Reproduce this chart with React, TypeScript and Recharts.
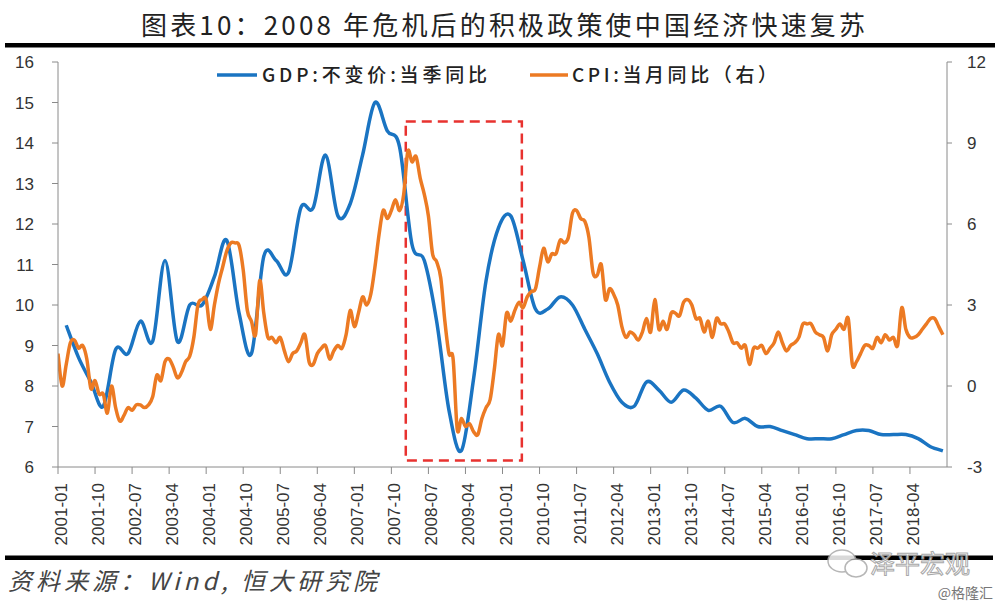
import React from "react";
import { LineChart, Line, XAxis, YAxis, ReferenceArea } from "recharts";

// ---------- text ----------
const TITLE = "图表10：2008 年危机后的积极政策使中国经济快速复苏";
const SOURCE = "资料来源：Wind, 恒大研究院";
const GDP_NAME = "GDP:不变价:当季同比";
const CPI_NAME = "CPI:当月同比（右）";
const WATERMARK = "泽平宏观";
const CREDIT = "@格隆汇";

// ---------- axes ----------
const LEFT_TICKS = [6, 7, 8, 9, 10, 11, 12, 13, 14, 15, 16];
const RIGHT_TICKS = [-3, 0, 3, 6, 9, 12];
const YEARS = [2001, 2002, 2003, 2004, 2005, 2006, 2007, 2008, 2009, 2010, 2011, 2012, 2013, 2014, 2015, 2016, 2017, 2018];
const MONTH_NUMS = ["01", "02", "03", "04", "05", "06", "07", "08", "09", "10", "11", "12"];
const X_TICK_LABELS = [
  "2001-01", "2001-10", "2002-07", "2003-04", "2004-01", "2004-10", "2005-07", "2006-04",
  "2007-01", "2007-10", "2008-07", "2009-04", "2010-01", "2010-10", "2011-07", "2012-04",
  "2013-01", "2013-10", "2014-07", "2015-04", "2016-01", "2016-10", "2017-07", "2018-04",
];

// ---------- CPI monthly yoy (%) ----------
const CPI_2001 = [1.2, 0.0, 0.8, 1.6, 1.7, 1.4, 1.5, 1.0, -0.1, 0.2, -0.3, -0.3];
const CPI_2002 = [-1.0, 0.0, -0.8, -1.3, -1.1, -0.8, -0.9, -0.7, -0.7, -0.8, -0.7, -0.4];
const CPI_2003 = [0.4, 0.2, 0.9, 1.0, 0.7, 0.3, 0.5, 0.9, 1.1, 1.8, 3.0, 3.2];
const CPI_2004 = [3.2, 2.1, 3.0, 3.8, 4.4, 5.0, 5.3, 5.3, 5.2, 4.3, 2.8, 2.4];
const CPI_2005 = [1.9, 3.9, 2.7, 1.8, 1.8, 1.6, 1.8, 1.3, 0.9, 1.2, 1.3, 1.6];
const CPI_2006 = [1.9, 0.9, 0.8, 1.2, 1.4, 1.5, 1.0, 1.3, 1.5, 1.4, 1.9, 2.8];
const CPI_2007 = [2.2, 2.7, 3.3, 3.0, 3.4, 4.4, 5.6, 6.5, 6.2, 6.5, 6.9, 6.5];
const CPI_2008 = [7.1, 8.7, 8.3, 8.5, 7.7, 7.1, 6.3, 4.9, 4.6, 4.0, 2.4, 1.2];
const CPI_2009 = [1.0, -1.6, -1.2, -1.5, -1.4, -1.7, -1.8, -1.2, -0.8, -0.5, 0.6, 1.9];
const CPI_2010 = [1.5, 2.7, 2.4, 2.8, 3.1, 2.9, 3.3, 3.5, 3.6, 4.4, 5.1, 4.6];
const CPI_2011 = [4.9, 4.9, 5.4, 5.3, 5.5, 6.4, 6.5, 6.2, 6.1, 5.5, 4.2, 4.1];
const CPI_2012 = [4.5, 3.2, 3.6, 3.4, 3.0, 2.2, 1.8, 2.0, 1.9, 1.7, 2.0, 2.5];
const CPI_2013 = [2.0, 3.2, 2.1, 2.4, 2.1, 2.7, 2.7, 2.6, 3.1, 3.2, 3.0, 2.5];
const CPI_2014 = [2.5, 2.0, 2.4, 1.8, 2.5, 2.3, 2.3, 2.0, 1.6, 1.6, 1.4, 1.5];
const CPI_2015 = [0.8, 1.4, 1.4, 1.5, 1.2, 1.4, 1.6, 2.0, 1.6, 1.3, 1.5, 1.6];
const CPI_2016 = [1.8, 2.3, 2.3, 2.3, 2.0, 1.9, 1.8, 1.3, 1.9, 2.1, 2.3, 2.1];
const CPI_2017 = [2.5, 0.8, 0.9, 1.2, 1.5, 1.5, 1.4, 1.8, 1.6, 1.9, 1.7, 1.8];
const CPI_2018 = [1.5, 2.9, 2.1, 1.8, 1.8, 1.9, 2.1, 2.3, 2.5, 2.5, 2.2, 1.9];

// ---------- GDP quarterly yoy (%) ----------
const GDP_2001 = [9.5, 8.7, 8.1, 7.5];
const GDP_2002 = [8.9, 8.8, 9.6, 9.1];
const GDP_2003 = [11.1, 9.1, 10.0, 10.0];
const GDP_2004 = [10.7, 11.6, 9.8, 8.8];
const GDP_2005 = [11.2, 11.1, 10.8, 12.4];
const GDP_2006 = [12.4, 13.7, 12.2, 12.5];
const GDP_2007 = [13.7, 15.0, 14.3, 13.9];
const GDP_2008 = [11.5, 11.1, 9.6, 7.4];
const GDP_2009 = [6.4, 8.2, 10.6, 11.9];
const GDP_2010 = [12.2, 11.1, 9.9, 9.9];
const GDP_2011 = [10.2, 10.0, 9.4, 8.8];
const GDP_2012 = [8.1, 7.6, 7.5, 8.1];
const GDP_2013 = [7.9, 7.6, 7.9, 7.7];
const GDP_2014 = [7.4, 7.5, 7.1, 7.2];
const GDP_2015 = [7.0, 7.0, 6.9, 6.8];
const GDP_2016 = [6.7, 6.7, 6.7, 6.8];
const GDP_2017 = [6.9, 6.9, 6.8, 6.8];
const GDP_2018 = [6.8, 6.7, 6.5, 6.4];

// highlighted crisis window (month index on x, left-axis value on y)
const BOX_X = [84.5, 112.7];
const BOX_Y = [6.16, 14.53];

const CPI = [
  ...CPI_2001, ...CPI_2002, ...CPI_2003, ...CPI_2004, ...CPI_2005, ...CPI_2006,
  ...CPI_2007, ...CPI_2008, ...CPI_2009, ...CPI_2010, ...CPI_2011, ...CPI_2012,
  ...CPI_2013, ...CPI_2014, ...CPI_2015, ...CPI_2016, ...CPI_2017, ...CPI_2018,
];
const GDP = [
  ...GDP_2001, ...GDP_2002, ...GDP_2003, ...GDP_2004, ...GDP_2005, ...GDP_2006,
  ...GDP_2007, ...GDP_2008, ...GDP_2009, ...GDP_2010, ...GDP_2011, ...GDP_2012,
  ...GDP_2013, ...GDP_2014, ...GDP_2015, ...GDP_2016, ...GDP_2017, ...GDP_2018,
];
const MONTHS: string[] = [];
YEARS.forEach((y) => MONTH_NUMS.forEach((m) => MONTHS.push(`${y}-${m}`)));

const DATA = MONTHS.map((month, i) => ({
  i,
  month,
  cpi: CPI[i],
  gdp: i % 3 === 2 ? GDP[(i - 2) / 3] : null,
}));
const X_TICKS = X_TICK_LABELS.map((l) => MONTHS.indexOf(l));

const BLUE = "#1a74c2";
const ORANGE = "#ec7a23";
const AXIS = "#8a8a8a";
const TICK_FONT = "'Liberation Sans', Arial, sans-serif";
const CJK = "'Noto Sans CJK SC', 'Liberation Sans', sans-serif";

// Excel-like smoothed line (Catmull-Rom bezier)
const excelCurve: any = (context: any) => {
  let pts: number[][] = [];
  return {
    areaStart() {},
    areaEnd() {},
    lineStart() {
      pts = [];
    },
    point(x: number, y: number) {
      pts.push([+x, +y]);
    },
    lineEnd() {
      const n = pts.length;
      if (!n) return;
      context.moveTo(pts[0][0], pts[0][1]);
      for (let k = 0; k < n - 1; k++) {
        const p0 = pts[k - 1] || pts[k];
        const p1 = pts[k];
        const p2 = pts[k + 1];
        const p3 = pts[k + 2] || p2;
        context.bezierCurveTo(
          p1[0] + (p2[0] - p0[0]) / 6,
          p1[1] + (p2[1] - p0[1]) / 6,
          p2[0] - (p3[0] - p1[0]) / 6,
          p2[1] - (p3[1] - p1[1]) / 6,
          p2[0],
          p2[1]
        );
      }
    },
  };
};

const XTick = (props: any) => {
  const { x, y, payload } = props;
  return (
    <text
      transform={`translate(${x},${y}) rotate(-90)`}
      textAnchor="end"
      dy={9}
      fontSize={17}
      fontFamily={TICK_FONT}
      fill="#333"
    >
      {MONTHS[payload.value]}
    </text>
  );
};

export default function App() {
  return (
    <div style={{ position: "absolute", left: 0, top: 0, width: 1000, height: 606, background: "#fff", overflow: "hidden" }}>
      <div style={{ position: "absolute", left: 0, top: 0 }}>
        <LineChart width={1000} height={606} data={DATA} margin={{ top: 62, right: 0, bottom: 0, left: 0 }}>
          <XAxis
            type="number"
            dataKey="i"
            domain={[0, 216]}
            ticks={X_TICKS}
            interval={0}
            height={139}
            tick={<XTick />}
            tickSize={7}
            tickMargin={9}
            stroke={AXIS}
            tickLine={{ stroke: AXIS }}
            allowDataOverflow
          />
          <YAxis
            yAxisId="left"
            orientation="left"
            width={58}
            domain={[6, 16]}
            ticks={LEFT_TICKS}
            interval={0}
            tickSize={6}
            tickMargin={18}
            stroke={AXIS}
            tick={{ fontSize: 17, fill: "#333", fontFamily: TICK_FONT }}
            allowDataOverflow
          />
          <YAxis
            yAxisId="right"
            orientation="right"
            width={53}
            domain={[-3, 12]}
            ticks={RIGHT_TICKS}
            interval={0}
            tickSize={5}
            tickMargin={15}
            stroke={AXIS}
            tick={{ fontSize: 17, fill: "#333", fontFamily: TICK_FONT, textAnchor: "start" }}
            allowDataOverflow
          />
          <Line
            yAxisId="left"
            dataKey="gdp"
            name={GDP_NAME}
            type={excelCurve}
            stroke={BLUE}
            strokeWidth={3.5}
            dot={false}
            activeDot={false}
            connectNulls
            isAnimationActive={false}
          />
          <Line
            yAxisId="right"
            dataKey="cpi"
            name={CPI_NAME}
            type={excelCurve}
            stroke={ORANGE}
            strokeWidth={3.5}
            dot={false}
            activeDot={false}
            isAnimationActive={false}
          />
          <ReferenceArea
            yAxisId="left"
            x1={BOX_X[0]}
            x2={BOX_X[1]}
            y1={BOX_Y[0]}
            y2={BOX_Y[1]}
            fill="none"
            fillOpacity={0}
            stroke="#e8322f"
            strokeWidth={2.5}
            strokeDasharray="10 6"
            strokeOpacity={1}
          />
        </LineChart>
      </div>
      <svg width={1000} height={606} style={{ position: "absolute", left: 0, top: 0, pointerEvents: "none" }}>
        <text x={141} y={35} fontSize={26} fontFamily={CJK} fill="#222" textLength={724} lengthAdjust="spacing">
          {TITLE}
        </text>
        <rect x={5} y={43} width={990} height={4.5} fill="#000" />
        <line x1={217} x2={257} y1={75} y2={75} stroke={BLUE} strokeWidth={3.5} />
        <text x={262} y={82} fontSize={19} fontFamily={CJK} fontWeight={500} fill="#222" textLength={225} lengthAdjust="spacing">
          {GDP_NAME}
        </text>
        <line x1={530} x2={568} y1={75} y2={75} stroke={ORANGE} strokeWidth={3.5} />
        <text x={572} y={82} fontSize={19} fontFamily={CJK} fontWeight={500} fill="#222" textLength={205} lengthAdjust="spacing">
          {CPI_NAME}
        </text>
        <rect x={5} y={555.5} width={988} height={4.5} fill="#000" />
        <text x={8} y={590} fontSize={24} fontStyle="italic" fontFamily={CJK} fill="#444" textLength={369} lengthAdjust="spacing">
          {SOURCE}
        </text>
        <g opacity={0.85}>
          <ellipse cx={842} cy={561} rx={14} ry={11} fill="#fff" stroke="#aaa" strokeWidth={1.5} />
          <ellipse cx={856} cy={568} rx={11} ry={9} fill="#fff" stroke="#aaa" strokeWidth={1.5} />
          <text x={870} y={573} fontSize={25} fontFamily={CJK} fill="#fff" stroke="#9a9a9a" strokeWidth={1}>
            {WATERMARK}
          </text>
        </g>
        <text x={993} y={598} fontSize={14} fontFamily={CJK} fill="#777" textAnchor="end">
          {CREDIT}
        </text>
      </svg>
    </div>
  );
}
